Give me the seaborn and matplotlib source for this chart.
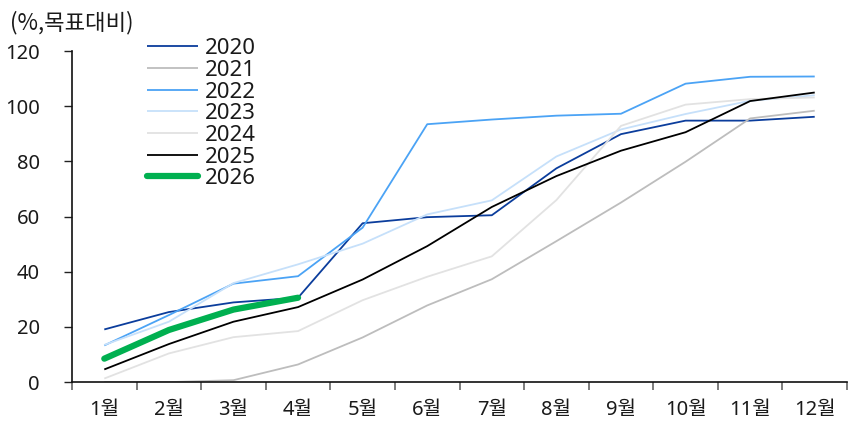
import numpy as np
import pandas as pd
import matplotlib
matplotlib.use("Agg")
import matplotlib.pyplot as plt
import seaborn as sns
from matplotlib.ticker import FixedLocator

# 월별 목표대비 누적 달성률 (%)
months = ["1월", "2월", "3월", "4월", "5월", "6월", "7월", "8월", "9월", "10월", "11월", "12월"]
y2020 = [19.1, 25.4, 28.9, 30.6, 57.6, 59.8, 60.5, 77.5, 89.9, 94.8, 94.8, 96.2]
y2021 = [0.0, 0.0, 0.7, 6.4, 16.2, 27.8, 37.3, 51.1, 65.1, 79.9, 95.6, 98.4]
y2022 = [13.3, 24.3, 35.7, 38.4, 56.0, 93.5, 95.2, 96.6, 97.3, 108.2, 110.7, 110.8]
y2023 = [13.5, 21.9, 35.9, 42.7, 50.2, 60.8, 65.9, 81.8, 91.6, 97.2, 102.0, 104.0]
y2024 = [1.3, 10.4, 16.3, 18.5, 29.7, 38.2, 45.6, 66.0, 92.9, 100.6, 102.6, 103.2]
y2025 = [4.6, 13.8, 21.9, 27.2, 37.2, 49.3, 63.5, 74.7, 83.9, 90.6, 101.9, 105.0]
y2026 = [8.5, 18.9, 26.3, 30.6]

years = ["2020", "2021", "2022", "2023", "2024", "2025", "2026"]
series = [y2020, y2021, y2022, y2023, y2024, y2025, y2026]
colors = ["#0b3d9c", "#bdbdbd", "#4ba3f5", "#c6e0fa", "#e2e2e2", "#000000", "#00b050"]
widths = [1.3, 1.3, 1.3, 1.3, 1.3, 1.3, 4.5]

rows = []
for yr, vals in zip(years, series):
    for i, v in enumerate(vals):
        rows.append({"year": yr, "idx": i, "value": v})
df = pd.DataFrame(rows)

sns.set_theme(style="white")
plt.rcParams["font.family"] = ["Noto Sans", "Noto Sans CJK KR", "DejaVu Sans"]

fig, ax = plt.subplots(figsize=(8.5, 4.26), dpi=100)
fig.subplots_adjust(left=0.0847, right=0.9965, top=0.880, bottom=0.103)

for yr, c, w in zip(years, colors, widths):
    sub = df[df["year"] == yr]
    sns.lineplot(data=sub, x="idx", y="value", ax=ax, color=c, linewidth=w,
                 label=yr, solid_capstyle="round" if yr == "2026" else "butt")

ax.set_xlim(-0.5, 11.5)
ax.set_ylim(0, 120)
ax.set_yticks(np.arange(0, 121, 20))
ax.xaxis.set_major_locator(FixedLocator(np.arange(12)))
ax.set_xticklabels(months)
ax.xaxis.set_minor_locator(FixedLocator(np.arange(-0.5, 12, 1)))
ax.tick_params(axis="x", which="major", length=0, pad=13, labelsize=14.5, colors="#1a1a1a")
ax.tick_params(axis="x", which="minor", length=6, width=1.2, color="#666666", direction="out", bottom=True)
ax.tick_params(axis="y", length=6, width=1, color="#222222", direction="out", left=True,
               labelsize=14.5, pad=17, labelcolor="#1a1a1a")
ax.set_xlabel("")
ax.set_ylabel("")

for s in ["top", "right"]:
    ax.spines[s].set_visible(False)
for s in ["left", "bottom"]:
    ax.spines[s].set_color("#111111")
    ax.spines[s].set_linewidth(1.2)

leg = ax.legend(loc="upper left", bbox_to_anchor=(0.097, 1.039), frameon=False,
                fontsize=16, handlelength=2.3, handletextpad=0.3,
                labelspacing=0.03, borderaxespad=0, borderpad=0)
for t in leg.get_texts():
    t.set_color("#1a1a1a")

fig.text(0.012, 0.946, "(%,목표대비)", fontsize=16, color="#1a1a1a", va="center", ha="left",
         family=["Noto Sans CJK KR", "DejaVu Sans"])

fig.savefig("out.png", dpi=100)
